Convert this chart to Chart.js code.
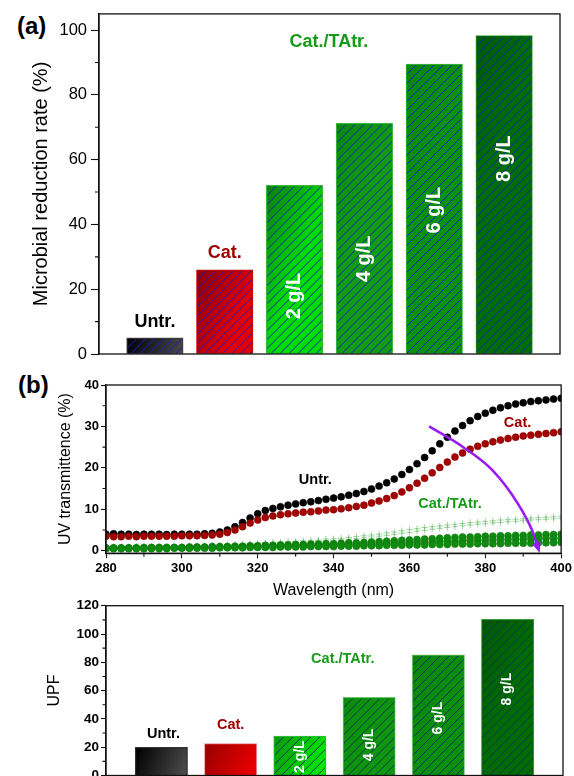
<!DOCTYPE html>
<html>
<head>
<meta charset="utf-8">
<script src="https://cdn.jsdelivr.net/npm/chart.js@4/dist/chart.umd.min.js"></script>
<style>
  body { margin: 0; width: 574px; height: 776px; overflow: hidden; background: #fff; position: relative; }
  canvas { position: absolute; left: 0; }
  .tag { position: absolute; font: bold 24px 'Liberation Sans', Arial, sans-serif; line-height: 24px; color: #000; }
</style>
</head>
<body>
<div class="tag" style="left:17px; top:14px;">(a)</div>
<div class="tag" style="left:18px; top:373px;">(b)</div>
<canvas id="chartA" width="574" height="370" style="top:0"></canvas>
<canvas id="chartB" width="574" height="230" style="top:370px"></canvas>
<canvas id="chartC" width="574" height="200" style="top:595px"></canvas>
<script>
// ---------- data ----------
const groups = ['Untr.', 'Cat.', '2 g/L', '4 g/L', '6 g/L', '8 g/L'];
const reduction = [5.0, 26.0, 52.1, 71.2, 89.5, 98.3];   // (a) microbial reduction rate, %
const upf = [19.9, 22.5, 27.9, 55.2, 85.2, 110.4];       // (c) UPF

const wavelength = [280, 282, 284, 286, 288, 290, 292, 294, 296, 298, 300,
  302, 304, 306, 308, 310, 312, 314, 316, 318, 320,
  322, 324, 326, 328, 330, 332, 334, 336, 338, 340,
  342, 344, 346, 348, 350, 352, 354, 356, 358, 360,
  362, 364, 366, 368, 370, 372, 374, 376, 378, 380,
  382, 384, 386, 388, 390, 392, 394, 396, 398, 400];
const tUntr = [4.0, 4.1, 4.0, 4.0, 3.9, 4.0, 4.0, 4.0, 3.9, 4.0, 4.0,
  4.0, 4.0, 4.1, 4.2, 4.5, 5.0, 5.8, 6.8, 7.9, 8.9,
  9.7, 10.2, 10.6, 11.0, 11.3, 11.6, 11.8, 12.1, 12.4, 12.7,
  13.0, 13.4, 13.8, 14.3, 14.9, 15.6, 16.4, 17.3, 18.4, 19.6,
  21.0, 22.5, 24.1, 25.8, 27.4, 28.9, 30.2, 31.4, 32.4, 33.2,
  33.9, 34.5, 35.0, 35.4, 35.7, 36.0, 36.2, 36.4, 36.6, 36.8];
const tCat = [3.5, 3.4, 3.4, 3.5, 3.4, 3.5, 3.5, 3.5, 3.5, 3.5, 3.6,
  3.6, 3.6, 3.7, 3.8, 4.0, 4.4, 5.0, 5.8, 6.7, 7.4,
  8.0, 8.4, 8.7, 8.9, 9.1, 9.3, 9.4, 9.6, 9.8, 9.9,
  10.1, 10.4, 10.7, 11.0, 11.5, 12.0, 12.6, 13.3, 14.2, 15.2,
  16.3, 17.5, 18.8, 20.1, 21.4, 22.6, 23.6, 24.5, 25.2, 25.8,
  26.3, 26.7, 27.1, 27.4, 27.7, 27.9, 28.1, 28.3, 28.5, 28.7];
const tCat2a = [0.9, 0.9, 0.9, 0.9, 1.0, 1.0, 1.0, 1.0, 1.0, 1.1, 1.1,
  1.1, 1.2, 1.2, 1.3, 1.3, 1.4, 1.5, 1.6, 1.7, 1.8,
  1.9, 2.0, 2.1, 2.2, 2.3, 2.4, 2.5, 2.6, 2.8, 2.9,
  3.0, 3.2, 3.4, 3.6, 3.8, 4.0, 4.3, 4.5, 4.8, 5.1,
  5.3, 5.6, 5.8, 6.0, 6.2, 6.4, 6.6, 6.8, 6.9, 7.1,
  7.2, 7.4, 7.5, 7.6, 7.7, 7.9, 8.0, 8.1, 8.2, 8.3];
const tCat2b = [0.8, 0.8, 0.8, 0.8, 0.9, 0.9, 0.9, 0.9, 0.9, 1.0, 1.0,
  1.0, 1.1, 1.1, 1.2, 1.2, 1.3, 1.3, 1.4, 1.5, 1.6,
  1.7, 1.7, 1.8, 1.9, 2.0, 2.1, 2.2, 2.3, 2.4, 2.5,
  2.6, 2.8, 2.9, 3.1, 3.3, 3.5, 3.7, 3.9, 4.2, 4.4,
  4.7, 4.9, 5.2, 5.4, 5.6, 5.8, 6.0, 6.2, 6.4, 6.5,
  6.7, 6.8, 7.0, 7.1, 7.2, 7.4, 7.5, 7.6, 7.7, 7.8];
const tCat4 = [0.7, 0.7, 0.7, 0.7, 0.7, 0.8, 0.8, 0.8, 0.8, 0.8, 0.8,
  0.9, 0.9, 0.9, 1.0, 1.0, 1.0, 1.1, 1.1, 1.2, 1.2,
  1.3, 1.3, 1.4, 1.4, 1.5, 1.5, 1.6, 1.6, 1.7, 1.7,
  1.8, 1.9, 1.9, 2.0, 2.1, 2.2, 2.3, 2.4, 2.5, 2.6,
  2.7, 2.8, 2.9, 3.0, 3.1, 3.2, 3.3, 3.3, 3.4, 3.5,
  3.5, 3.6, 3.6, 3.7, 3.7, 3.8, 3.8, 3.9, 3.9, 4.0];
const tCat6 = [0.6, 0.6, 0.6, 0.6, 0.6, 0.6, 0.7, 0.7, 0.7, 0.7, 0.7,
  0.7, 0.8, 0.8, 0.8, 0.8, 0.9, 0.9, 0.9, 1.0, 1.0,
  1.0, 1.1, 1.1, 1.1, 1.2, 1.2, 1.2, 1.3, 1.3, 1.3,
  1.4, 1.4, 1.5, 1.5, 1.6, 1.6, 1.7, 1.8, 1.8, 1.9,
  2.0, 2.0, 2.1, 2.2, 2.3, 2.3, 2.4, 2.5, 2.5, 2.6,
  2.6, 2.7, 2.7, 2.8, 2.8, 2.9, 2.9, 3.0, 3.0, 3.0];
const tCat8 = [0.5, 0.5, 0.5, 0.5, 0.5, 0.5, 0.5, 0.5, 0.5, 0.6, 0.6,
  0.6, 0.6, 0.6, 0.6, 0.7, 0.7, 0.7, 0.7, 0.8, 0.8,
  0.8, 0.8, 0.9, 0.9, 0.9, 0.9, 1.0, 1.0, 1.0, 1.0,
  1.1, 1.1, 1.1, 1.2, 1.2, 1.2, 1.3, 1.3, 1.3, 1.4,
  1.4, 1.4, 1.5, 1.5, 1.5, 1.6, 1.6, 1.6, 1.7, 1.7,
  1.7, 1.7, 1.8, 1.8, 1.8, 1.8, 1.9, 1.9, 1.9, 2.0];

// arrow drawn in panel (b), in data units
const arrowX = [365.2, 374.0, 381.8, 388.5, 392.3, 393.6];
const arrowY = [30.0, 25.1, 19.5, 11.5, 5.0, 1.5];

// tick labels
const ticksA = [0, 20, 40, 60, 80, 100];
const minorA = [10, 30, 50, 70, 90];
const ticksBy = [0, 10, 20, 30, 40];
const minorBy = [5, 15, 25, 35];
const ticksBx = [280, 300, 320, 340, 360, 380, 400];
const minorBx = [290, 310, 330, 350, 370, 390];
const ticksC = [0, 20, 40, 60, 80, 100, 120];
const minorC = [10, 30, 50, 70, 90, 110];

// ---------- helpers ----------
Chart.defaults.font.family = "'Liberation Sans', Arial, sans-serif";
Chart.defaults.color = '#000';
const RED = '#a00000', GREEN = '#179a17';

const frame = {
  id: 'frame',
  afterDraw(chart, args, o) {
    const { ctx, chartArea: a, scales } = chart;
    ctx.save();
    ctx.strokeStyle = '#111';
    ctx.lineWidth = 1.3;
    ctx.strokeRect(a.left, a.top, a.right - a.left, a.bottom - a.top);
    ctx.lineWidth = 1.1;
    ctx.beginPath();
    (o.yMinor || []).forEach(v => {
      const p = scales.y.getPixelForValue(v);
      ctx.moveTo(a.left - o.len, p); ctx.lineTo(a.left, p);
    });
    (o.xMinor || []).forEach(v => {
      const p = scales.x.getPixelForValue(v);
      ctx.moveTo(p, a.bottom); ctx.lineTo(p, a.bottom + o.len);
    });
    ctx.stroke();
    ctx.restore();
  }
};

const barPaint = {
  id: 'barPaint',
  afterDatasetsDraw(chart, args, o) {
    const ctx = chart.ctx;
    chart.getDatasetMeta(0).data.forEach((bar, i) => {
      const { x, y, base, width } = bar.getProps(['x', 'y', 'base', 'width'], true);
      const l = x - width / 2 + 1, r = x + width / 2 - 1, t = y + 1, b = base;
      const g = ctx.createLinearGradient(l, t, r, t + (r - l) * 0.4);
      g.addColorStop(0, o.fills[i][0]);
      g.addColorStop(1, o.fills[i][1]);
      ctx.save();
      ctx.beginPath();
      ctx.rect(l, t, r - l, b - t);
      ctx.fillStyle = g;
      ctx.fill();
      ctx.clip();
      if (o.hatch[i]) {
        const h = b - t;
        ctx.strokeStyle = o.hatchColor;
        ctx.lineWidth = 1;
        ctx.beginPath();
        for (let k = l - h; k < r; k += o.step) {
          ctx.moveTo(k, b); ctx.lineTo(k + h, t);
        }
        ctx.stroke();
      }
      ctx.restore();
    });
  }
};

const notes = {
  id: 'notes',
  afterDatasetsDraw(chart, args, o) {
    const { ctx, scales } = chart;
    o.items.forEach(n => {
      ctx.save();
      ctx.translate(scales.x.getPixelForValue(n.x), scales.y.getPixelForValue(n.y));
      if (n.rot) ctx.rotate(-Math.PI / 2);
      ctx.font = 'bold ' + n.size + "px 'Liberation Sans', Arial, sans-serif";
      ctx.fillStyle = n.color;
      ctx.textAlign = 'center';
      ctx.textBaseline = 'middle';
      ctx.fillText(n.text, 0, 0);
      ctx.restore();
    });
  }
};

const arrowHead = {
  id: 'arrowHead',
  afterDatasetsDraw(chart, args, o) {
    const pts = chart.getDatasetMeta(o.index).data;
    const p = pts[pts.length - 1], q = pts[pts.length - 2];
    const ang = Math.atan2(p.y - q.y, p.x - q.x);
    const ctx = chart.ctx;
    ctx.save();
    ctx.translate(p.x, p.y);
    ctx.rotate(ang);
    ctx.fillStyle = o.color;
    ctx.beginPath();
    ctx.moveTo(9, 0);
    ctx.lineTo(-2, -4.5);
    ctx.lineTo(-2, 4.5);
    ctx.closePath();
    ctx.fill();
    ctx.restore();
  }
};

function fixTicks(list) {
  return scale => { scale.ticks = list.map(v => ({ value: v })); };
}

// ---------- (a) microbial reduction ----------
new Chart(document.getElementById('chartA'), {
  type: 'bar',
  data: {
    datasets: [{
      data: reduction.map((v, i) => ({ x: i + 1, y: v })),
      backgroundColor: ['#222', '#c00000', '#10b010', '#109410', '#0b8c0b', '#006600'],
      borderColor: ['#555', '#c01010', '#3cb83c', '#3cb83c', '#3cb83c', '#2e9a2e'],
      borderWidth: 1,
      borderSkipped: false,
      barThickness: 56.5
    }]
  },
  options: {
    responsive: false,
    animation: false,
    devicePixelRatio: 1,
    layout: { padding: { top: 13, right: 14, bottom: 16, left: 0 } },
    plugins: {
      legend: { display: false },
      tooltip: { enabled: false },
      frame: { yMinor: minorA, len: 4 },
      barPaint: {
        fills: [['#000000', '#4d4d4d'], ['#8a0000', '#e40000'], ['#0b7f0b', '#00dc00'],
                ['#0a8a0a', '#129c12'], ['#0a860a', '#0b920b'], ['#005a00', '#006e00']],
        hatch: [true, true, true, true, true, true],
        hatchColor: '#1a1ad2',
        step: 9
      },
      notes: {
        items: [
          { x: 1, y: 9.8, text: 'Untr.', color: '#000', size: 18 },
          { x: 2, y: 31.3, text: 'Cat.', color: RED, size: 18 },
          { x: 3.49, y: 96.2, text: 'Cat./TAtr.', color: GREEN, size: 18 },
          { x: 3, y: 17.9, text: groups[2], color: '#fff', size: 20, rot: true },
          { x: 4, y: 29.4, text: groups[3], color: '#fff', size: 20, rot: true },
          { x: 5, y: 44.4, text: groups[4], color: '#fff', size: 20, rot: true },
          { x: 6, y: 60.3, text: groups[5], color: '#fff', size: 20, rot: true }
        ]
      }
    },
    scales: {
      x: { type: 'linear', min: 0.2, max: 6.8, offset: false, display: false },
      y: {
        min: 0, max: 105,
        afterBuildTicks: fixTicks(ticksA),
        afterFit: s => { s.width = 99; },
        border: { display: true, color: '#111', width: 1.3 },
        grid: { drawOnChartArea: false, color: '#111', tickLength: 8, tickWidth: 1.1 },
        ticks: { font: { size: 16.5 }, padding: 4 },
        title: {
          display: true,
          text: 'Microbial reduction rate (%)',
          font: { size: 20 },
          padding: { top: 29, bottom: 0 }
        }
      }
    }
  },
  plugins: [barPaint, notes, frame]
});

// ---------- (b) UV transmittance ----------
const xy = arr => arr.map((v, i) => ({ x: wavelength[i], y: v }));
const dots = (data, color, edge) => ({
  data: xy(data), showLine: false, pointRadius: 3.5, pointBorderWidth: 0.6,
  pointBackgroundColor: color, pointBorderColor: edge
});
const faint = data => ({
  data: xy(data), showLine: false, pointStyle: 'cross', pointRadius: 3.2,
  pointBorderWidth: 1, pointBorderColor: 'rgba(100,185,100,0.6)', pointBackgroundColor: 'transparent'
});

new Chart(document.getElementById('chartB'), {
  type: 'line',
  data: {
    datasets: [
      {
        data: arrowX.map((v, i) => ({ x: v, y: arrowY[i] })),
        borderColor: '#9a1cf2', borderWidth: 2.6, pointRadius: 0,
        cubicInterpolationMode: 'monotone', fill: false
      },
      dots(tCat, '#a30000', '#8a0000'),
      dots(tUntr, '#000000', '#000000'),
      dots(tCat8, '#0f8c0f', '#0b780b'),
      dots(tCat6, '#0f8c0f', '#0b780b'),
      dots(tCat4, '#0f8c0f', '#0b780b'),
      faint(tCat2a),
      faint(tCat2b)
    ]
  },
  options: {
    responsive: false,
    animation: false,
    devicePixelRatio: 1,
    layout: { padding: { top: 15, right: 11, bottom: 0, left: 0 } },
    plugins: {
      legend: { display: false },
      tooltip: { enabled: false },
      frame: { yMinor: minorBy, xMinor: minorBx, len: 3.5 },
      arrowHead: { index: 0, color: '#9a1cf2' },
      notes: {
        items: [
          { x: 335.2, y: 17.1, text: 'Untr.', color: '#000', size: 14.5 },
          { x: 388.5, y: 30.9, text: 'Cat.', color: RED, size: 14.5 },
          { x: 370.7, y: 11.2, text: 'Cat./TAtr.', color: GREEN, size: 14.5 }
        ]
      }
    },
    scales: {
      x: {
        type: 'linear', min: 280, max: 400,
        afterBuildTicks: fixTicks(ticksBx),
        afterFit: s => { s.height = 46.8; },
        border: { display: true, color: '#111', width: 1.3 },
        grid: { drawOnChartArea: false, color: '#111', tickLength: 5, tickWidth: 1.1 },
        ticks: { font: { size: 13, weight: 'bold' }, padding: 2, maxRotation: 0 },
        title: { display: true, text: 'Wavelength (nm)', font: { size: 16 }, padding: { top: 0, bottom: 0 } }
      },
      y: {
        min: -0.6, max: 40,
        afterBuildTicks: fixTicks(ticksBy),
        afterFit: s => { s.width = 106; },
        border: { display: true, color: '#111', width: 1.3 },
        grid: { drawOnChartArea: false, color: '#111', tickLength: 5, tickWidth: 1.1 },
        ticks: { font: { size: 13, weight: 'bold' }, padding: 2 },
        title: { display: true, text: 'UV transmittence (%)', font: { size: 16 }, padding: { top: 56, bottom: 0 } }
      }
    }
  },
  plugins: [notes, arrowHead, frame]
});

// ---------- (c) UPF ----------
new Chart(document.getElementById('chartC'), {
  type: 'bar',
  data: {
    datasets: [{
      data: upf.map((v, i) => ({ x: i + 1, y: v })),
      backgroundColor: ['#222', '#d00000', '#10c010', '#109410', '#0b8c0b', '#006400'],
      borderColor: ['#333', '#e08a8a', '#3cb83c', '#6cc86c', '#6cc86c', '#3c9a3c'],
      borderWidth: 1,
      borderSkipped: false,
      barThickness: 52.3
    }]
  },
  options: {
    responsive: false,
    animation: false,
    devicePixelRatio: 1,
    layout: { padding: { top: 10.7, right: 11, bottom: 19.5, left: 0 } },
    plugins: {
      legend: { display: false },
      tooltip: { enabled: false },
      frame: { yMinor: minorC, len: 3.5 },
      barPaint: {
        fills: [['#000000', '#4a4a4a'], ['#9a0000', '#ea0000'], ['#0a9a0a', '#00ea00'],
                ['#0b8e0b', '#0d980d'], ['#0a860a', '#0b900b'], ['#005800', '#006c00']],
        hatch: [false, false, true, true, true, true],
        hatchColor: '#16305a',
        step: 9
      },
      notes: {
        items: [
          { x: 1.03, y: 29.3, text: 'Untr.', color: '#000', size: 14.5 },
          { x: 2.0, y: 35.7, text: 'Cat.', color: RED, size: 14.5 },
          { x: 3.62, y: 82.3, text: 'Cat./TAtr.', color: GREEN, size: 14.5 },
          { x: 3, y: 13.3, text: groups[2], color: '#fff', size: 14, rot: true },
          { x: 4, y: 21.6, text: groups[3], color: '#fff', size: 14, rot: true },
          { x: 5, y: 40.6, text: groups[4], color: '#fff', size: 14, rot: true },
          { x: 6, y: 61.1, text: groups[5], color: '#fff', size: 14, rot: true }
        ]
      }
    },
    scales: {
      x: { type: 'linear', min: 0.2, max: 6.8, offset: false, display: false },
      y: {
        min: 0, max: 120,
        afterBuildTicks: fixTicks(ticksC),
        afterFit: s => { s.width = 106; },
        border: { display: true, color: '#111', width: 1.3 },
        grid: { drawOnChartArea: false, color: '#111', tickLength: 5, tickWidth: 1.1 },
        ticks: { font: { size: 13.5, weight: 'bold' }, padding: 2 },
        title: { display: true, text: 'UPF', font: { size: 16 }, padding: { top: 45, bottom: 0 } }
      }
    }
  },
  plugins: [barPaint, notes, frame]
});
</script>
</body>
</html>
